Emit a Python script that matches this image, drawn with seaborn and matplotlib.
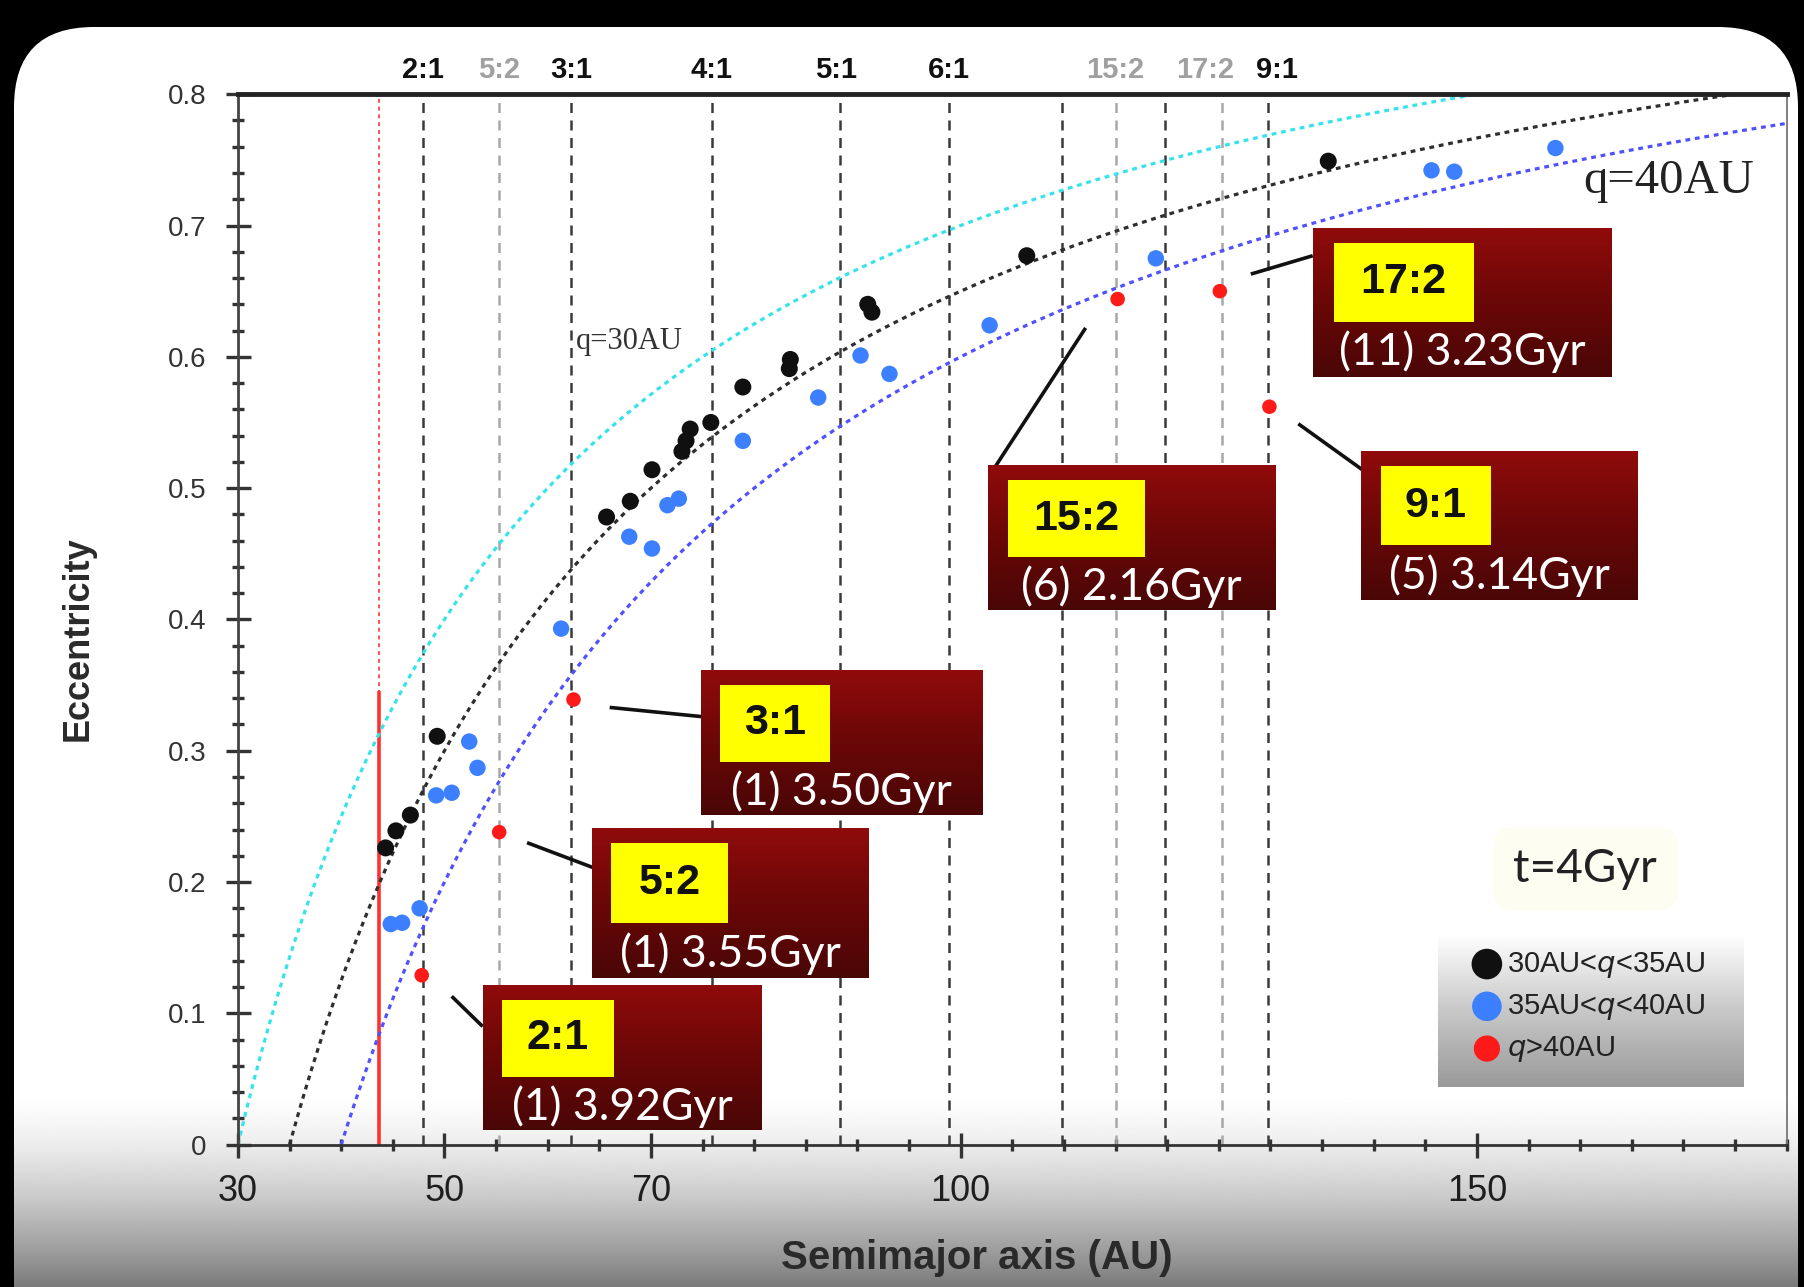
import numpy as np
import pandas as pd
import matplotlib
matplotlib.use("Agg")
import matplotlib.pyplot as plt
import seaborn as sns
from matplotlib.colors import LinearSegmentedColormap
from matplotlib.patches import Rectangle, FancyBboxPatch
from matplotlib.ticker import MultipleLocator, FixedLocator
import matplotlib.transforms as mtransforms

# ---------------- data ----------------
black_a = [44.3, 45.3, 46.7, 49.3, 65.7, 68.0, 70.1, 73.0, 73.4, 73.8, 75.8, 78.9,
           83.4, 83.5, 91.0, 91.4, 106.4, 135.6]
black_e = [0.226, 0.239, 0.251, 0.311, 0.478, 0.490, 0.514, 0.528, 0.536, 0.545, 0.550,
           0.577, 0.591, 0.598, 0.640, 0.634, 0.677, 0.749]

blue_a = [44.8, 45.9, 47.6, 49.2, 50.7, 52.4, 53.2, 61.3, 67.9, 70.1, 71.6, 72.7, 78.9,
          86.2, 90.3, 93.1, 102.8, 118.9, 145.6, 147.8, 157.6]
blue_e = [0.168, 0.169, 0.180, 0.266, 0.268, 0.307, 0.287, 0.393, 0.463, 0.454, 0.487,
          0.492, 0.536, 0.569, 0.601, 0.587, 0.624, 0.675, 0.742, 0.741, 0.759]

red_a = [47.8, 55.3, 62.5, 115.2, 125.1, 129.9]
red_e = [0.129, 0.238, 0.339, 0.644, 0.650, 0.562]

group_labels = ["30AU<$q$<35AU", "35AU<$q$<40AU", "$q$>40AU"]

res_labels = ["2:1", "5:2", "3:1", "4:1", "5:1", "6:1", "7:1", "15:2", "8:1", "17:2", "9:1"]
res_a = [47.9, 55.3, 62.3, 75.9, 88.3, 98.9, 109.8, 115.0, 119.8, 125.3, 129.8]
res_kind = ["main", "half", "main", "main", "main", "main", "main", "half", "main", "half", "main"]
res_shown = [True, True, True, True, True, True, False, True, False, True, True]

q_values = [30, 35, 40]
q_text = ["q=30AU", None, "q=40AU"]

red_line_a = 43.7
red_line_top = 0.345

ann_res = ["2:1", "5:2", "3:1", "15:2", "9:1", "17:2"]
ann_count = [1, 1, 1, 6, 5, 11]
ann_time = [3.92, 3.55, 3.50, 2.16, 3.14, 3.23]

xticks = [30, 50, 70, 100, 150]
yticks = [0, 0.1, 0.2, 0.3, 0.4, 0.5, 0.6, 0.7, 0.8]
ytick_labels = ["0", "0.1", "0.2", "0.3", "0.4", "0.5", "0.6", "0.7", "0.8"]

# ---------------- layout (annotation boxes, data coords) ----------------
box_rect = [  # x0, x1, y0, y1
    (53.7, 80.7, 0.011, 0.121),
    (64.3, 91.1, 0.127, 0.241),
    (74.8, 102.1, 0.251, 0.361),
    (102.6, 130.4, 0.407, 0.517),
    (138.8, 165.6, 0.415, 0.528),
    (134.1, 163.0, 0.585, 0.698),
]
leader = [
    ((50.7, 0.113), (53.7, 0.090)),
    ((58.0, 0.230), (64.4, 0.211)),
    ((66.0, 0.333), (74.9, 0.326)),
    ((112.1, 0.622), (103.4, 0.517)),
    ((132.7, 0.549), (138.9, 0.514)),
    ((128.1, 0.663), (134.1, 0.677)),
]
yellow_w = [0.40, 0.42, 0.39, 0.48, 0.40, 0.47]
label_nudge = {"17:2": -12, "9:1": 6, "5:1": -3}

# ---------------- style ----------------
sns.set_theme(style="white")
plt.rcParams["font.family"] = ["Liberation Sans", "DejaVu Sans"]

W, H = 1804, 1287
fig = plt.figure(figsize=(W / 100, H / 100), dpi=100, facecolor="black")

# background panel
bg = fig.add_axes([0, 0, 1, 1], zorder=0)
bg.set_xlim(0, W)
bg.set_ylim(H, 0)
bg.axis("off")
pad = 80
bg.add_patch(FancyBboxPatch((14 + pad, 27 + pad), W - 14 - 6 - 2 * pad, 1500 - 2 * pad,
                            boxstyle="round,pad=%d" % pad, fc="white", ec="none", zorder=1))
t = np.linspace(0, 1, 200)
vals = 1 - 0.52 * t ** 1.5
gray_cmap = LinearSegmentedColormap.from_list("g", ["#000000", "#ffffff"])
bg.imshow(vals[:, None], extent=[14, W - 6, H, 1090], aspect="auto", cmap=gray_cmap,
          vmin=0, vmax=1, origin="upper", zorder=2)
bg.set_xlim(0, W)
bg.set_ylim(H, 0)

# main axes
ax = fig.add_axes([0.1319, 0.1106, 0.8585, 0.8162], zorder=1)
ax.set_facecolor("none")

# resonance lines
for a, kind in zip(res_a, res_kind):
    ax.axvline(a, color="#3a3a3a" if kind == "main" else "#a8a8a8", lw=1.8,
               ls=(0, (4, 3)), zorder=1)

# red line
ax.axvline(red_line_a, color="#ff5050", lw=1.4, ls=(0, (2, 2)), zorder=1)
ax.plot([red_line_a, red_line_a], [0, red_line_top], color="#ff3030", lw=2.6, zorder=1)

# q curves
q_colors = ["#35e3ea", "#2e2e2e", "#5050ff"]
for q, c in zip(q_values, q_colors):
    ag = np.linspace(q, 180, 400)
    ax.plot(ag, 1 - q / ag, color=c, lw=2.3, ls=(0, (1.5, 1.5)), zorder=2)

# scatter points
df = pd.concat([
    pd.DataFrame({"a": black_a, "e": black_e, "group": group_labels[0]}),
    pd.DataFrame({"a": blue_a, "e": blue_e, "group": group_labels[1]}),
    pd.DataFrame({"a": red_a, "e": red_e, "group": group_labels[2]}),
], ignore_index=True)
palette = {group_labels[0]: "#101010", group_labels[1]: "#3d80ff", group_labels[2]: "#ff1a1a"}
sizes = {group_labels[0]: 150, group_labels[1]: 140, group_labels[2]: 110}
for g in group_labels:
    sub = df[df["group"] == g]
    sns.scatterplot(data=sub, x="a", y="e", color=palette[g], s=sizes[g], edgecolor="none",
                    ax=ax, zorder=3, label=g, legend=True)

# annotation boxes
box_cmap = LinearSegmentedColormap.from_list("box", ["#4a0606", "#6a0707", "#900b0b"])
grad = np.linspace(0, 1, 100)[:, None]
for lab, n, tm, (x0, x1, y0, y1), ld, yw in zip(ann_res, ann_count, ann_time, box_rect,
                                                leader, yellow_w):
    ax.plot([ld[0][0], ld[1][0]], [ld[0][1], ld[1][1]], color="#111111", lw=2.6,
            zorder=4, solid_capstyle="butt")
    ax.imshow(grad, extent=[x0, x1, y0, y1], aspect="auto", cmap=box_cmap, origin="lower",
              zorder=5, interpolation="bilinear")
    w = x1 - x0
    h = y1 - y0
    ax.add_patch(Rectangle((x0 + 0.07 * w, y0 + 0.37 * h), yw * w, 0.53 * h,
                           fc="#ffff00", ec="none", zorder=6))
    ax.text(x0 + 0.07 * w + yw * w / 2, y0 + 0.635 * h, lab, ha="center", va="center",
            fontsize=31, fontweight="bold", color="#111111", zorder=7)
    ax.text(x0 + 0.5 * w, y0 + 0.165 * h, "(%d) %.2fGyr" % (n, tm), ha="center",
            va="center", fontsize=32, color="white", zorder=7,
            family=["Lato", "DejaVu Sans"])

# axis limits and ticks
ax.set_xlim(30, 180)
ax.set_ylim(0, 0.8)
ax.xaxis.set_major_locator(FixedLocator(xticks))
ax.xaxis.set_minor_locator(MultipleLocator(5))
ax.yaxis.set_major_locator(FixedLocator(yticks))
ax.yaxis.set_minor_locator(MultipleLocator(0.02))
ax.set_yticklabels(ytick_labels)
ax.tick_params(axis="both", which="both", bottom=True, left=True, top=False, right=False)
ax.tick_params(axis="both", which="major", direction="inout", length=18, width=2.4,
               color="#333333", labelcolor="#1e1e1e")
ax.tick_params(axis="both", which="minor", direction="inout", length=9, width=2.4,
               color="#333333")
ax.tick_params(axis="x", which="major", labelsize=26, pad=12)
ax.tick_params(axis="y", which="major", labelsize=20, pad=14)
for lbl in ax.get_yticklabels():
    lbl.set_color("#333333")

ax.spines["top"].set_linewidth(3.5)
ax.spines["top"].set_color("#222222")
ax.spines["left"].set_linewidth(2.0)
ax.spines["left"].set_color("#444444")
ax.spines["bottom"].set_linewidth(2.0)
ax.spines["bottom"].set_color("#333333")
ax.spines["right"].set_linewidth(1.3)
ax.spines["right"].set_color("#777777")

ax.set_xlabel("Semimajor axis (AU)", fontsize=29, fontweight="bold", color="#2a2a2a",
              va="top")
ax.xaxis.set_label_coords(0.477, -0.09)
ax.set_ylabel("Eccentricity", fontsize=26, fontweight="bold", color="#2a2a2a", va="center")
ax.yaxis.set_label_coords(-0.103, 0.482)

# resonance labels on top
trans = mtransforms.blended_transform_factory(ax.transData, ax.transAxes)
for lab, a, kind, shown in zip(res_labels, res_a, res_kind, res_shown):
    if not shown:
        continue
    ax.annotate(lab, xy=(a, 1.0), xycoords=trans,
                xytext=(label_nudge.get(lab, 0), 7), textcoords="offset points",
                ha="center", va="bottom", fontsize=21, fontweight="bold",
                color="#111111" if kind == "main" else "#a0a0a0",
                family=["Liberation Sans Narrow", "Liberation Sans"], annotation_clip=False)

# q labels
ax.text(62.7, 0.612, q_text[0], ha="left", va="center", fontsize=22, color="#333333",
        family=["Liberation Serif", "DejaVu Serif"], zorder=3)
ax.text(160.3, 0.734, q_text[2], ha="left", va="center", fontsize=35, color="#222222",
        family=["Liberation Serif", "DejaVu Serif"], zorder=3)

# t=4Gyr
ax.text(160.5, 0.210, "t=4Gyr", ha="center", va="center", fontsize=33, color="#222222",
        family=["Lato", "DejaVu Sans"], zorder=3,
        bbox=dict(boxstyle="round,pad=0.45", fc="#fdfdf2", ec="none"))

# legend background gradient
leg_cmap = LinearSegmentedColormap.from_list("leg", ["#9a9a9a", "#c8c8c8", "#ffffff"])
ax.imshow(grad, extent=[0.775, 0.972, 0.055, 0.200], transform=ax.transAxes,
          aspect="auto", cmap=leg_cmap, origin="lower", zorder=2, interpolation="bilinear")
ax.set_xlim(30, 180)
ax.set_ylim(0, 0.8)

handles, labels = ax.get_legend_handles_labels()
leg = ax.legend(handles, labels, loc="upper left", bbox_to_anchor=(0.781, 0.205),
                frameon=False, fontsize=21, markerscale=1.8, handletextpad=0.05,
                labelspacing=0.42, borderpad=0.2, handlelength=1.3)
for txt in leg.get_texts():
    txt.set_color("#222222")
leg.set_zorder(8)

fig.savefig("out.png", dpi=100, facecolor=fig.get_facecolor())
